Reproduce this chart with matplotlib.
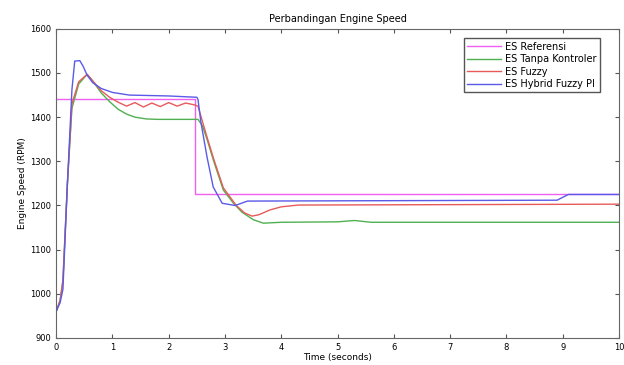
import numpy as np
import matplotlib.pyplot as plt

# data
t_ref = [0, 2.47, 2.47, 10]
es_ref = [1440, 1440, 1225, 1225]

t_tanpa = [0, 0.07, 0.12, 0.2, 0.28, 0.4, 0.55, 0.65, 0.8, 0.95, 1.1, 1.25, 1.4, 1.6, 1.8, 2.52,
           2.6, 2.68, 2.8, 2.97, 3.15, 3.3, 3.5, 3.68, 4.0, 5.0, 5.3, 5.6, 10]
es_tanpa = [960, 985, 1030, 1250, 1420, 1475, 1497, 1482, 1455, 1435, 1418, 1407, 1400, 1396, 1395, 1395,
            1380, 1350, 1300, 1235, 1205, 1185, 1168, 1160, 1162, 1163, 1166, 1162, 1162]

t_fuzzy = [0, 0.07, 0.12, 0.2, 0.28, 0.4, 0.55, 0.65, 0.8, 0.95, 1.1, 1.25, 1.4, 1.55,
           1.7, 1.85, 2.0, 2.15, 2.3, 2.45, 2.52, 2.6, 2.68, 2.8, 2.97, 3.2, 3.35, 3.48, 3.6,
           3.8, 4.0, 4.3, 10]
es_fuzzy = [960, 985, 1030, 1250, 1430, 1480, 1497, 1482, 1460, 1445, 1434, 1425, 1433, 1423,
            1432, 1424, 1433, 1425, 1432, 1428, 1425, 1390, 1355, 1305, 1240, 1200, 1183, 1176, 1179,
            1190, 1197, 1201, 1203]

t_hybrid = [0, 0.07, 0.12, 0.2, 0.28, 0.33, 0.42, 0.48, 0.55, 0.65, 0.8, 1.0, 1.3, 2.0, 2.5, 2.52,
            2.57, 2.68, 2.79, 2.95, 3.18, 3.4, 8.9, 9.1, 10]
es_hybrid = [960, 980, 1010, 1250, 1462, 1527, 1528, 1515, 1495, 1478, 1465, 1456, 1450, 1448, 1445, 1440,
             1390, 1310, 1242, 1205, 1200, 1210, 1212, 1225, 1225]

labels = ['ES Referensi', 'ES Tanpa Kontroler', 'ES Fuzzy', 'ES Hybrid Fuzzy PI']

fig = plt.figure(figsize=(6.24, 3.65), dpi=100)
ax = fig.add_axes([0.09, 0.074, 0.902, 0.847])

ax.plot(t_ref, es_ref, color='#f060f0', lw=1, label=labels[0])
ax.plot(t_tanpa, es_tanpa, color='#50b050', lw=1, label=labels[1])
ax.plot(t_fuzzy, es_fuzzy, color='#e85a5a', lw=1, label=labels[2])
ax.plot(t_hybrid, es_hybrid, color='#5a5ae8', lw=1, label=labels[3])

ax.set_xlim(0, 10)
ax.set_ylim(900, 1600)
ax.set_xticks(np.arange(0, 11, 1))
ax.set_yticks(np.arange(900, 1601, 100))
ax.tick_params(direction='in', top=True, right=True, labelsize=6, length=3, color='#555555')
for s in ax.spines.values():
    s.set_color('#666666')

ax.set_title('Perbandingan Engine Speed', fontsize=7, pad=5)
ax.set_xlabel('Time (seconds)', fontsize=6.5, labelpad=1)
ax.set_ylabel('Engine Speed (RPM)', fontsize=6.5, labelpad=2)

leg = ax.legend(loc='upper right', bbox_to_anchor=(0.975, 0.985), fontsize=7,
                fancybox=False, framealpha=1, edgecolor='#555555',
                handlelength=3.5, handletextpad=0.4, borderpad=0.35, labelspacing=0.25)

plt.savefig('out.png')
